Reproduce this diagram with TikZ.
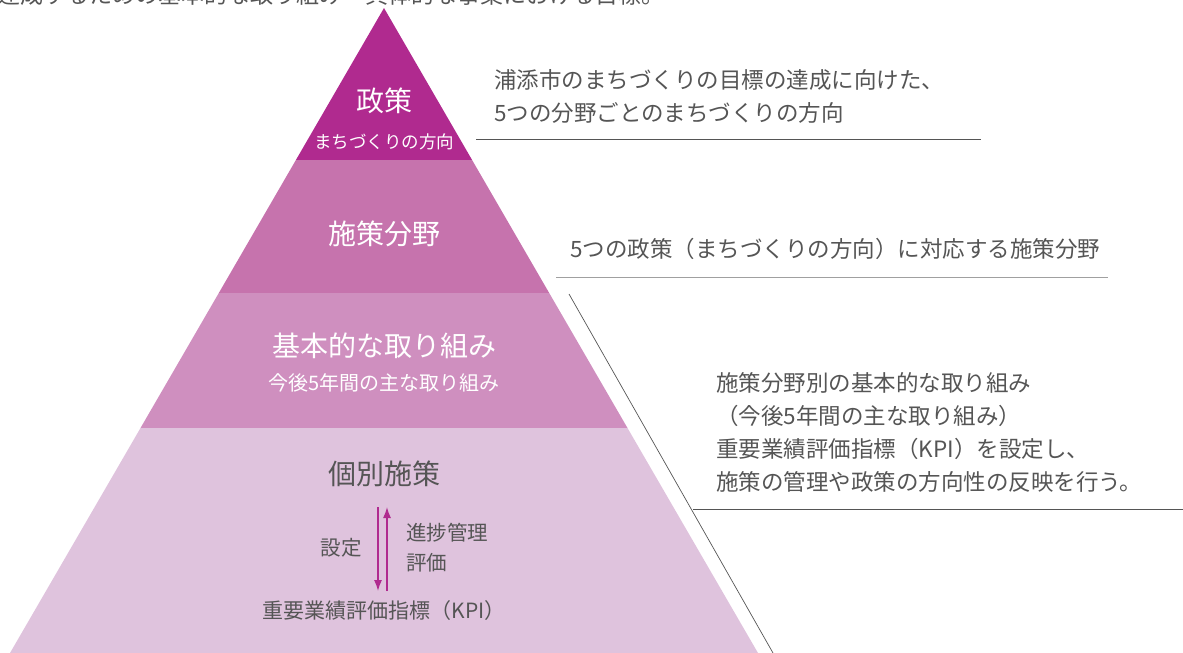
\documentclass[tikz,border=0pt]{standalone}
\usepackage{fontspec}
\setmainfont{Noto Sans CJK JP}
\usetikzlibrary{arrows.meta}
\definecolor{c1}{HTML}{B02A8F}
\definecolor{c2}{HTML}{C673AD}
\definecolor{c3}{HTML}{CF8FBF}
\definecolor{c4}{HTML}{DFC3DD}
\definecolor{txt}{HTML}{555555}
\definecolor{ln1}{HTML}{555555}
\definecolor{ln2}{HTML}{A0A0A0}
\tikzset{
  big/.style={text=white,font=\fontsize{28}{30}\selectfont,inner sep=0pt},
  small/.style={text=white,font=\fontsize{17.5}{20}\selectfont,inner sep=0pt},
  dark/.style={text=txt,inner sep=0pt},
  desc/.style={text=txt,font=\fontsize{22.5}{33}\selectfont,align=left,inner sep=0pt,anchor=west},
  arr/.style={draw=c1,fill=c1,line width=1.4pt,-{Latex[length=11pt,width=8pt]}},
  rule/.style={line width=0.8pt},
}
\begin{document}
\begin{tikzpicture}[x=1pt,y=-1pt]
\useasboundingbox (0,0) rectangle (1183,653);
\clip (0,0) rectangle (1183,653);
% cut-off text at top
\node[dark,anchor=west,font=\fontsize{23}{26}\selectfont] (toptext) at (-3,-5) {達成するための基本的な取り組み・具体的な事業における目標。};
% pyramid bands
\fill[c1] (384,8) -- (472.1,160) -- (295.9,160) -- cycle;
\fill[c2] (295.9,160) -- (472.1,160) -- (549.2,293) -- (218.8,293) -- cycle;
\fill[c3] (218.8,293) -- (549.2,293) -- (627.5,428) -- (140.5,428) -- cycle;
\fill[c4] (140.5,428) -- (627.5,428) -- (758,653) -- (10,653) -- cycle;
% labels
\node[big] (seisaku) at (384,101) {政策};
\node[small] (machi) at (384,142) {まちづくりの方向};
\node[big] (shisaku) at (384,234) {施策分野};
\node[big] (kihon) at (384,346) {基本的な取り組み};
\node[small,font=\fontsize{20}{22}\selectfont] (kongo) at (384,383) {今後5年間の主な取り組み};
\node[dark,font=\fontsize{28}{30}\selectfont] (kobetsu) at (384,474) {個別施策};
\node[dark,font=\fontsize{20.5}{24}\selectfont] (settei) at (341,548) {設定};
\node[dark,font=\fontsize{20.5}{30}\selectfont,align=left,anchor=west] (shinchoku) at (406,548) {進捗管理\\評価};
\node[dark,font=\fontsize{21}{24}\selectfont] (kpi) at (384,611) {重要業績評価指標（KPI）};
\coordinate (d1) at (378,507);
\coordinate (d2) at (378,591);
\coordinate (u1) at (387,591);
\coordinate (u2) at (387,507);
\draw[arr] (d1) -- (d2);
\draw[arr] (u1) -- (u2);
% right descriptions
\node[desc] (desc1) at (494,96) {浦添市のまちづくりの目標の達成に向けた、\\5つの分野ごとのまちづくりの方向};
\coordinate (r1a) at (476,139);
\coordinate (r1b) at (981,139);
\draw[rule,draw=ln1] (r1a) -- (r1b);
\node[desc] (desc2) at (570,249) {5つの政策（まちづくりの方向）に対応する施策分野};
\coordinate (r2a) at (556,277);
\coordinate (r2b) at (1108,277);
\draw[rule,draw=ln2] (r2a) -- (r2b);
\node[desc] (desc3) at (716,432) {施策分野別の基本的な取り組み\\（今後5年間の主な取り組み）\\重要業績評価指標（KPI）を設定し、\\施策の管理や政策の方向性の反映を行う。};
\coordinate (r3a) at (693,509);
\coordinate (r3b) at (1183,509);
\draw[rule,draw=ln1] (r3a) -- (r3b);
\coordinate (dg1) at (569,294);
\coordinate (dg2) at (773,653);
\draw[line width=0.7pt,draw=ln1] (dg1) -- (dg2);
\end{tikzpicture}
\end{document}
